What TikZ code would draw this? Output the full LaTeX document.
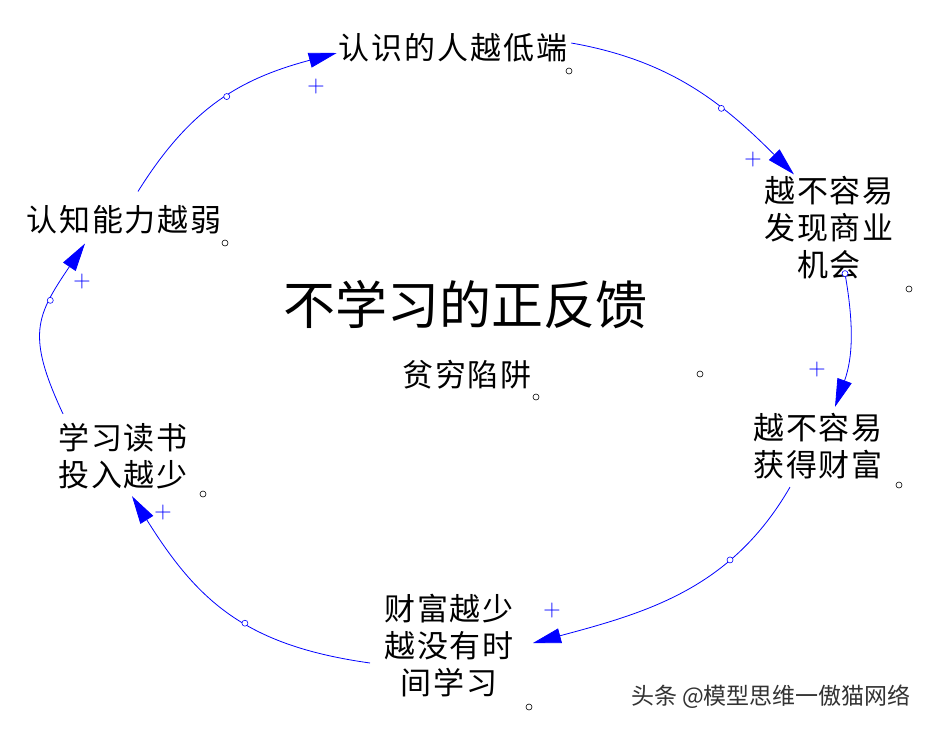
\documentclass[tikz,border=0pt]{standalone}
\usepackage{fontspec}
\usepackage{tikz}
\usetikzlibrary{positioning,arrows.meta,calc}
\newfontfamily\cjk{Noto Sans CJK SC}
\newfontfamily\cjkwide[LetterSpace=6]{Noto Sans CJK SC}
\tikzset{
    var/.style={font=\cjkwide\fontsize{31}{37}\selectfont, align=center, inner sep=2pt},
}

\begin{document}
\begin{tikzpicture}[
  x=1pt, y=1pt,
  lnk/.style={blue, line width=0.8pt, -{Triangle[length=28pt,width=15pt]}},
  hdl/.style={circle, draw=blue, fill=white, line width=0.6pt, inner sep=0pt, minimum size=6pt},
  knob/.style={circle, draw=black, fill=white, line width=0.6pt, inner sep=0pt, minimum size=6pt},
  pol/.style={blue, inner sep=0pt, font=\fontsize{24}{24}\selectfont}
]
\useasboundingbox[fill=white] (0,0) rectangle (938,-729);

% Variables (x = px, y = -px)
\node[var] (low)   at (453,-48)  {认识的人越低端};
\node[var] (hard1) at (829,-228) {越不容易\\发现商业\\机会};
\node[var] (hard2) at (818,-446) {越不容易\\获得财富};
\node[var] (less)  at (449,-646) {财富越少\\越没有时\\间学习};
\node[var] (read)  at (123,-456) {学习读书\\投入越少};
\node[var] (weak)  at (124,-220) {认知能力越弱};

\node[font=\cjk\fontsize{52}{52}\selectfont, inner sep=0pt] (title) at (465,-305) {不学习的正反馈};
\node[var] (trap) at (467,-375) {贫穷陷阱};
\node[font=\cjk\fontsize{23}{23}\selectfont, text=black!80, inner sep=0pt] (mark) at (771,-697) {头条 @模型思维一傲猫网络};

% small circles beside the variables
\node[knob] (k-low)   at (569,-71)  {};
\node[knob] (k-hard1) at (909,-289) {};
\node[knob] (k-hard2) at (899,-485) {};
\node[knob] (k-less)  at (529,-707) {};
\node[knob] (k-read)  at (203,-494) {};
\node[knob] (k-weak)  at (225,-243) {};
\node[knob] (k-trap)  at (536,-397) {};
\node[knob] (k-free)  at (700,-374) {};

% Links
\draw[lnk] ([xshift=14pt,yshift=12pt]weak.north) to[out=58,in=195, looseness=1.05] node[hdl, pos=0.53]{} ([yshift=-5pt]low.west);
\draw[lnk] ([xshift=2pt,yshift=5pt]low.east) to[out=-10,in=135] node[hdl, pos=0.64]{} ([xshift=-35pt]hard1.north);
\draw[lnk] ([xshift=16pt,yshift=8pt]hard1.south) to[out=-80,in=70] node[hdl, pos=0]{} ([xshift=17pt,yshift=4pt]hard2.north);
\draw[lnk] ([xshift=-28pt,yshift=-6pt]hard2.south) to[out=-120,in=15] node[hdl, pos=0.3]{} ([xshift=17pt,yshift=3pt]less.east);
\draw[lnk] ([xshift=-12pt,yshift=-17pt]less.west) to[out=172,in=-58, looseness=1.1] node[hdl, pos=0.43]{} ([xshift=9pt,yshift=-5pt]read.south);
\draw[lnk] ([xshift=-60pt,yshift=7pt]read.north) to[out=115,in=236, looseness=1.3] node[hdl, pos=0.68]{} ([xshift=-39pt,yshift=-7pt]weak.south);

% Polarities
\node[pol] (pl1) at (316,-87)  {+};
\node[pol] (pl2) at (753,-160) {+};
\node[pol] (pl3) at (817,-370) {+};
\node[pol] (pl4) at (552,-611) {+};
\node[pol] (pl5) at (163,-513) {+};
\node[pol] (pl6) at (82,-282)  {+};
\end{tikzpicture}
\end{document}
